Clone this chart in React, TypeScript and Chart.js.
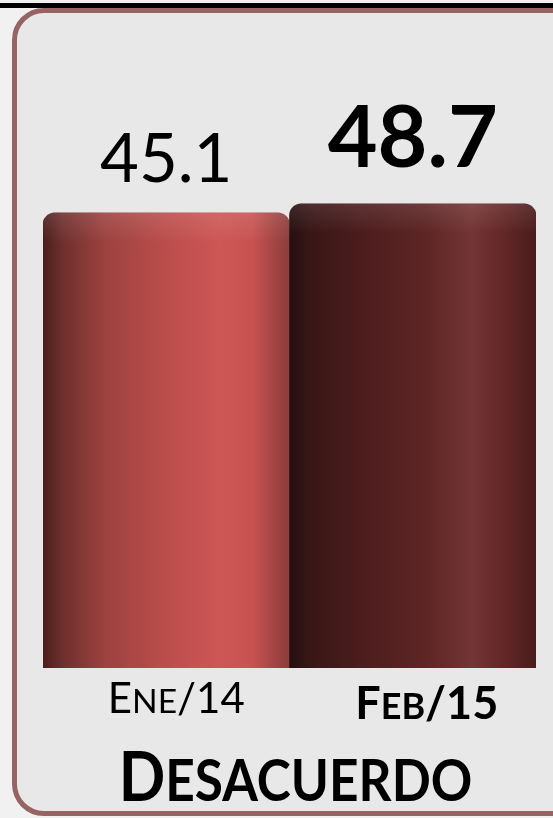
import { useEffect, useRef } from "react";
import { Chart, registerables } from "chart.js";

Chart.register(...registerables);

// ---- data ----
const categories: string[] = ["Ene/14", "Feb/15"];
const values: number[] = [45.1, 48.7];
const emphasis: boolean[] = [false, true];
const chartTitle = "Desacuerdo";
const axisMin = -137;
const axisMax = 123;

// cylinder shading stops per bar (left -> right)
const barStops: [number, string][][] = [
  [
    [0, "#4a1e1c"],
    [0.08, "#6e302e"],
    [0.25, "#9c4240"],
    [0.5, "#bb4e4c"],
    [0.72, "#cd5755"],
    [0.85, "#c75351"],
    [0.93, "#a64745"],
    [1, "#8c3d3b"],
  ],
  [
    [0, "#261010"],
    [0.08, "#381616"],
    [0.3, "#4c1d1d"],
    [0.55, "#5e2525"],
    [0.74, "#733535"],
    [0.86, "#652828"],
    [1, "#4a1b1b"],
  ],
];
const barFallback = ["#c05050", "#5a2222"];

const FONT = "Lato, 'Open Sans', 'DejaVu Sans', sans-serif";

function drawSmallCaps(
  ctx: CanvasRenderingContext2D,
  text: string,
  cx: number,
  baseline: number,
  size: number,
  weight: string,
  ratio: number,
  sx: number
) {
  const runs: { t: string; s: number; w: number }[] = [];
  for (const ch of text) {
    const lower = ch !== ch.toUpperCase();
    const s = lower ? size * ratio : size;
    const c = ch.toUpperCase();
    const last = runs[runs.length - 1];
    if (last && last.s === s) last.t += c;
    else runs.push({ t: c, s, w: 0 });
  }
  let total = 0;
  for (const r of runs) {
    ctx.font = `${weight} ${r.s}px ${FONT}`;
    r.w = ctx.measureText(r.t).width;
    total += r.w;
  }
  ctx.save();
  ctx.translate(cx, baseline);
  ctx.scale(sx, 1);
  let x = -total / 2;
  ctx.textAlign = "left";
  ctx.textBaseline = "alphabetic";
  for (const r of runs) {
    ctx.font = `${weight} ${r.s}px ${FONT}`;
    ctx.fillText(r.t, x, 0);
    x += r.w;
  }
  ctx.restore();
}

const labelsPlugin = {
  id: "labelsPlugin",
  afterDatasetsDraw(chart: any) {
    const ctx: CanvasRenderingContext2D = chart.ctx;
    const meta = chart.getDatasetMeta(0);
    const area = chart.chartArea;
    ctx.save();
    // top cap highlight
    meta.data.forEach((bar: any) => {
      const left = bar.x - bar.width / 2;
      const g = ctx.createLinearGradient(0, bar.y, 0, bar.y + 30);
      g.addColorStop(0, "rgba(255,255,255,0.10)");
      g.addColorStop(1, "rgba(255,255,255,0)");
      ctx.fillStyle = g;
      ctx.beginPath();
      const r = 12;
      ctx.moveTo(left, bar.y + 30);
      ctx.lineTo(left, bar.y + r);
      ctx.quadraticCurveTo(left, bar.y, left + r, bar.y);
      ctx.lineTo(left + bar.width - r, bar.y);
      ctx.quadraticCurveTo(left + bar.width, bar.y, left + bar.width, bar.y + r);
      ctx.lineTo(left + bar.width, bar.y + 30);
      ctx.closePath();
      ctx.fill();
    });
    ctx.fillStyle = "#000";
    meta.data.forEach((bar: any, i: number) => {
      const bold = emphasis[i];
      ctx.font = `${bold ? "bold" : "normal"} ${bold ? 86 : 67}px ${FONT}`;
      ctx.textAlign = "center";
      ctx.textBaseline = "alphabetic";
      ctx.fillText(String(values[i].toFixed(1)), bar.x, bar.y - (bold ? 37 : 31));
      drawSmallCaps(
        ctx,
        categories[i],
        bar.x + (bold ? 14 : 10),
        area.bottom + (bold ? 51 : 45),
        bold ? 45 : 42,
        bold ? "bold" : "normal",
        0.8,
        1
      );
    });
    drawSmallCaps(
      ctx,
      chartTitle,
      (area.left + area.right) / 2 + 6,
      area.bottom + 133,
      68,
      "bold",
      0.84,
      0.9
    );
    ctx.restore();
  },
};

export default function App() {
  const ref = useRef<HTMLCanvasElement | null>(null);

  useEffect(() => {
    if (!ref.current) return;
    const chart = new Chart(ref.current, {
      type: "bar",
      data: {
        labels: categories,
        datasets: [
          {
            data: values,
            base: axisMin,
            backgroundColor: (c: any) => {
              const chart = c.chart;
              const area = chart.chartArea;
              const i = c.dataIndex;
              if (!area || i === undefined) return barFallback[0];
              const xs = chart.scales.x;
              const cx = xs.getPixelForValue(i);
              const half = (area.right - area.left) / values.length / 2;
              const g = chart.ctx.createLinearGradient(cx - half, 0, cx + half, 0);
              for (const [o, col] of barStops[i]) g.addColorStop(o, col);
              return g;
            },
            borderWidth: 0,
            borderRadius: 12,
            borderSkipped: "bottom",
            barPercentage: 1,
            categoryPercentage: 1,
          } as any,
        ],
      },
      options: {
        animation: false,
        responsive: false,
        maintainAspectRatio: false,
        layout: { padding: { left: 43, right: 17, top: 18, bottom: 150 } },
        plugins: {
          legend: { display: false },
          tooltip: { enabled: false },
          title: { display: false },
        },
        scales: {
          x: { display: false },
          y: { display: false, min: axisMin, max: axisMax },
        },
      },
      plugins: [labelsPlugin],
    });
    return () => chart.destroy();
  }, []);

  return (
    <div
      style={{
        position: "fixed",
        left: 0,
        top: 0,
        width: 553,
        height: 818,
        background: "#f1f1f1",
        overflow: "hidden",
      }}
    >
      <div
        style={{
          position: "absolute",
          left: 0,
          top: 3,
          width: 553,
          height: 5,
          background: "#000",
        }}
      />
      <div
        style={{
          position: "absolute",
          left: 12,
          top: 8,
          width: 600,
          height: 808,
          boxSizing: "border-box",
          border: "5px solid #966464",
          borderRadius: 32,
          background: "#e8e8e8",
        }}
      />
      <canvas
        ref={ref}
        width={553}
        height={818}
        style={{ position: "absolute", left: 0, top: 0, width: 553, height: 818 }}
      />
    </div>
  );
}
